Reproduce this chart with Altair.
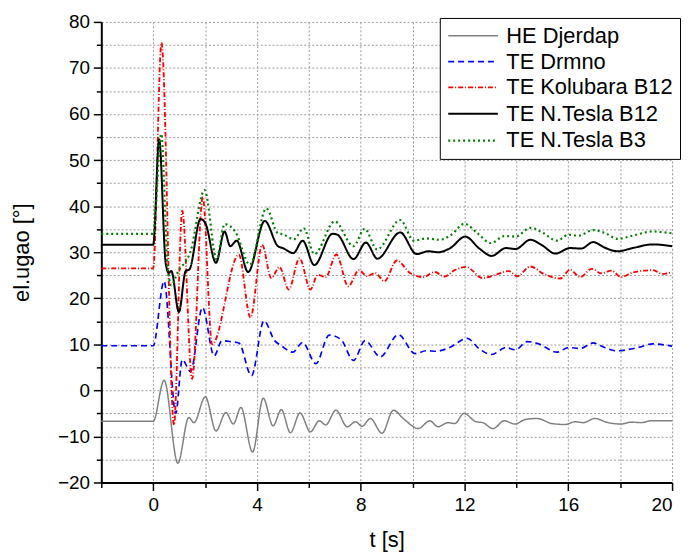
import altair as alt
import pandas as pd

series_names = ["HE Djerdap", "TE Drmno", "TE Kolubara B12", "TE N.Tesla B12", "TE N.Tesla B3"]
series_colors = ["#808080", "#0000ff", "#ff0000", "#000000", "#008000"]

djerdap_t = [-2, 0, 0.42, 0.95, 1.37, 1.57, 2.01, 2.42, 2.8, 3.09, 3.38, 3.83, 4.24, 4.62, 4.94, 5.29, 5.66,
             6.06, 6.4, 6.65, 7.04, 7.48, 7.8, 8.05, 8.37, 8.82, 9.26, 9.64, 10.22, 10.66, 10.98, 11.36, 11.62,
             11.98, 12.44, 12.7, 13.1, 13.53, 13.94, 14.35, 14.8, 15.37, 15.88, 16.26, 16.58, 17.02, 17.53,
             18.04, 18.42, 18.8, 19.19, 20]
djerdap_v = [-6.7, -6.7, 2.2, -15.8, -5.9, -7.0, -1.4, -8.8, -4.8, -7.3, -3.7, -13.4, -1.7, -7.7, -4.2, -9.2, -4.9,
             -9.0, -6.6, -7.5, -4.3, -7.9, -6.8, -7.8, -6.1, -9.3, -4.3, -6.1, -8.3, -6.6, -7.9, -7.0, -7.2,
             -5.0, -6.8, -7.0, -8.3, -6.6, -7.3, -6.3, -6.1, -7.2, -7.4, -6.8, -7.0, -6.1, -7.0,
             -7.3, -6.9, -7.0, -6.6, -6.6]

drmno_t = [-2, 0, 0.42, 0.87, 1.12, 1.44, 1.9, 2.35, 2.65, 2.97, 3.3, 3.79, 4.27, 4.68, 4.94, 5.38, 5.76, 6.27,
           6.78, 7.23, 7.72, 8.17, 8.75, 9.45, 10.09, 10.53, 10.92, 11.42, 12.1, 12.57, 13.05, 13.59, 13.97,
           14.41, 14.86, 15.56, 16.0, 16.45, 16.96, 17.4, 17.85, 18.68, 19.25, 20]
drmno_v = [9.7, 9.7, 23.7, -5.0, 6.7, 4.1, 18.0, 7.5, 10.8, 10.6, 10.3, 3.2, 15.1, 10.8, 9.7, 8.3, 10.4, 5.8,
           12.0, 11.1, 6.5, 10.8, 7.3, 12.1, 8.0, 8.6, 8.5, 9.3, 11.3, 9.0, 7.8, 9.3, 8.8,
           10.6, 10.1, 8.3, 9.3, 9.1, 10.3, 9.3, 8.6, 9.3, 10.1, 9.6]

kolubara_t = [-2, 0, 0.32, 0.8, 1.12, 1.5, 1.91, 2.27, 3.3, 3.75, 4.2, 4.55, 4.87, 5.22, 5.64, 6.06, 6.34, 6.65,
              7.06, 7.52, 7.93, 8.24, 8.56, 8.91, 9.39, 9.9, 10.41, 10.85, 11.23, 11.62, 12.06, 12.7, 13.2,
              13.71, 14.03, 14.54, 15.05, 15.69, 16.07, 16.45, 16.9, 17.28, 17.66, 18.04, 18.48, 19.25, 19.63, 20]
kolubara_v = [26.5, 26.5, 75.5, -7.5, 39.0, 2.5, 42.0, 10.0, 29.5, 15.8, 31.6, 24.4, 26.8, 21.9, 28.7, 21.9, 25.1, 24.6,
              29.5, 22.6, 26.1, 24.8, 25.5, 23.7, 28.2, 25.5, 24.6, 25.7, 24.7, 26.1, 26.8, 24.4, 25.1,
              25.9, 24.8, 26.9, 25.3, 24.3, 26.2, 24.6, 26.4, 25.4, 26.0, 24.6, 25.6, 26.1, 25.3, 25.7]

tesla12_t = [-2, 0, 0.23, 0.48, 0.6, 0.7, 0.99, 1.25, 1.4, 1.82, 2.01, 2.42, 2.75, 2.97, 3.22, 3.66, 4.3, 4.81,
             5.0, 5.4, 5.76, 6.21, 6.91, 7.1, 7.72, 8.2, 8.64, 9.52, 10.15, 10.6, 10.98, 11.45, 12.03, 12.57,
             13.05, 13.59, 13.97, 14.54, 14.99, 15.5, 16.07, 16.5, 16.96, 17.4, 17.91, 18.48, 19.25, 20]
tesla12_v = [31.6, 31.6, 54.5, 27.7, 25.5, 25.9, 17.0, 25.9, 26.3, 37.2, 36.3, 27.7, 34.5, 31.3, 32.5, 25.7, 36.8, 31.3,
             30.9, 29.8, 32.5, 27.2, 34.0, 33.8, 28.5, 32.1, 28.6, 34.3, 29.6, 30.2, 30.0, 30.9, 33.4, 30.8,
             29.2, 30.9, 30.7, 32.7, 31.5, 29.7, 30.9, 30.8, 32.2, 31.0, 30.2, 30.9, 31.7, 31.3]

tesla3_t = [-2, 0, 0.31, 0.55, 0.7, 0.93, 1.44, 1.98, 2.45, 2.75, 3.16, 3.73, 4.36, 4.81, 5.0, 5.42, 5.8, 6.21,
            7.0, 7.72, 8.15, 8.63, 9.52, 10.05, 10.53, 11.04, 11.49, 12.0, 12.5, 13.02, 13.53, 13.97, 14.54,
            15.05, 15.56, 16.0, 16.4, 16.96, 17.4, 17.91, 18.48, 19.25, 20]
tesla3_v = [34.0, 34.0, 55.7, 27.3, 22.8, 25.5, 30.2, 43.5, 28.4, 36.1, 34.5, 27.3, 39.5, 34.1, 33.9, 32.8, 35.2, 29.6,
            36.7, 31.3, 35.1, 30.6, 37.0, 32.5, 33.0, 32.7, 33.8, 36.2, 34.1, 32.0, 33.5, 33.4, 35.3,
            34.1, 32.5, 33.8, 33.6, 34.8, 34.2, 32.9, 33.6, 34.5, 34.1]

rows = []
for name, ts, vs in [
    (series_names[0], djerdap_t, djerdap_v),
    (series_names[1], drmno_t, drmno_v),
    (series_names[2], kolubara_t, kolubara_v),
    (series_names[3], tesla12_t, tesla12_v),
    (series_names[4], tesla3_t, tesla3_v),
]:
    for t, v in zip(ts, vs):
        rows.append({"series": name, "t": t, "v": v})
df = pd.DataFrame(rows)

legend = alt.Legend(
    title=None, orient="none", legendX=341, legendY=-4,
    strokeColor="black", fillColor="white", padding=7,
    symbolType="M-1,0H4", symbolSize=400, labelFontSize=22, labelFont="Liberation Sans",
    labelColor="black", rowPadding=4, labelOffset=37, labelLimit=400,
)

x_axis = alt.Axis(
    title="t [s]", values=list(range(-2, 21, 2)),
    labelExpr="datum.value % 4 === 0 ? datum.label : ''",
    tickSize={"condition": {"test": "datum.value % 4 === 0", "value": 8}, "value": 5},
    labelFontSize=19, titleFontSize=22, titlePadding=15, labelPadding=5,
)
y_axis = alt.Axis(
    title="el.ugao [°]", values=list(range(-20, 81, 5)),
    labelExpr="datum.value % 10 === 0 ? datum.label : ''",
    tickSize={"condition": {"test": "datum.value % 10 === 0", "value": 8}, "value": 5},
    labelFontSize=19, titleFontSize=22, titlePadding=24, labelPadding=4,
)

chart = alt.Chart(df).mark_line(interpolate="monotone").encode(
    x=alt.X("t:Q", scale=alt.Scale(domain=[-2, 20], nice=False, zero=False), axis=x_axis),
    y=alt.Y("v:Q", scale=alt.Scale(domain=[-20, 80], nice=False), axis=y_axis),
    color=alt.Color("series:N", scale=alt.Scale(domain=series_names, range=series_colors), legend=legend),
    strokeDash=alt.StrokeDash("series:N", scale=alt.Scale(domain=series_names,
                              range=[[1, 0], [6, 4], [5, 2, 1, 2], [1, 0], [2, 3]]), legend=legend),
    strokeWidth=alt.StrokeWidth("series:N", scale=alt.Scale(domain=series_names,
                                range=[1.5, 2.2, 1.1, 1.8, 1.8]), legend=legend),
).properties(
    width=575, height=464,
    autosize=alt.AutoSizeParams(type="none"),
    padding={"left": 94, "top": 12, "right": 10, "bottom": 71},
).configure(
    font="Liberation Sans",
).configure_view(
    stroke=None,
).configure_axis(
    grid=True, gridColor="#9a9a9a", gridDash=[2, 2], gridWidth=1,
    domainColor="black", domainWidth=2, tickColor="black", tickWidth=1.5,
    labelColor="black", titleColor="black", titleFontWeight="normal",
    labelFont="Liberation Sans", titleFont="Liberation Sans",
)

chart.save("out.html", embed_options={"renderer": "svg", "actions": False})
